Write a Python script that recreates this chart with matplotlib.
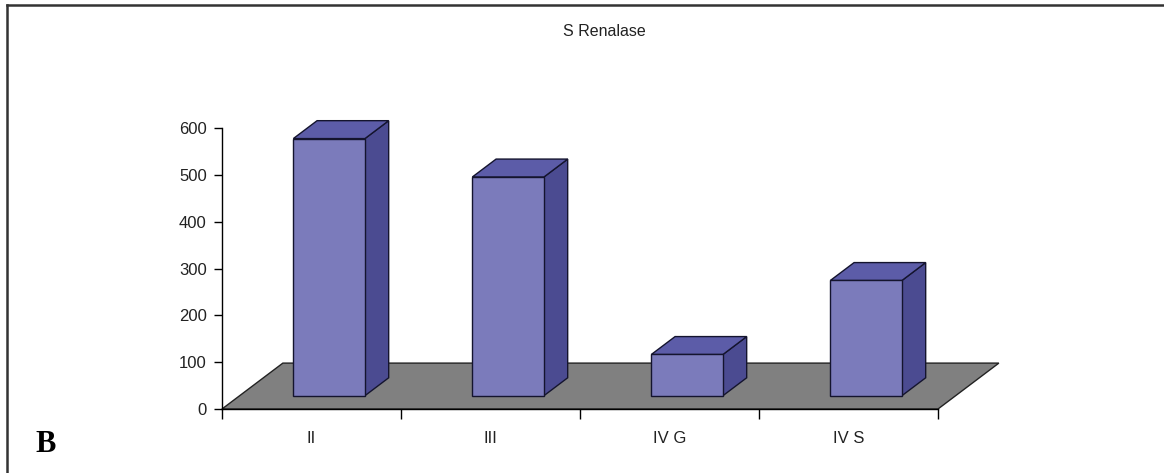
import matplotlib
matplotlib.use("Agg")
import matplotlib.pyplot as plt
from matplotlib.patches import Polygon
from matplotlib.lines import Line2D

# Data
categories = ["II", "III", "IV G", "IV S"]
renalase = [549, 467, 88, 246]
y_ticks = [0, 100, 200, 300, 400, 500, 600]

# Styling / pseudo-3D geometry
W, H, DPI = 1164, 473, 100
FRONT = "#7b7bbb"
TOP = "#5c5ca8"
SIDE = "#4b4b91"
EDGE = "#14142e"
FLOOR = "#808080"
HALF_W = 0.2          # half bar width, in category units
DEPTH_X = 0.34        # floor depth shift along x (category units)
DEPTH_Y = 98.0        # floor depth shift along y (value units)
F0, F1 = 0.29, 0.68   # bar front/back position within floor depth

plt.rcParams["font.family"] = ["Liberation Sans", "DejaVu Sans"]

fig = plt.figure(figsize=(W / DPI, H / DPI), dpi=DPI)
fig.patch.set_facecolor("white")
ax = fig.add_axes([222 / W, (H - 409) / H, (938 - 222) / W, (409 - 128) / H])
ax.set_xlim(-0.5, len(categories) - 0.5)
ax.set_ylim(0, 600)
ax.patch.set_alpha(0)

# Floor
floor = Polygon([(-0.5, 0), (len(categories) - 0.5, 0),
                 (len(categories) - 0.5 + DEPTH_X, DEPTH_Y), (-0.5 + DEPTH_X, DEPTH_Y)],
                closed=True, facecolor=FLOOR, edgecolor="#222222", lw=1.0,
                clip_on=False, zorder=1)
ax.add_patch(floor)

# Bars
ddx = (F1 - F0) * DEPTH_X
ddy = (F1 - F0) * DEPTH_Y
for i, v in enumerate(renalase):
    x0 = i - HALF_W + F0 * DEPTH_X
    x1 = i + HALF_W + F0 * DEPTH_X
    y0 = F0 * DEPTH_Y
    y1 = y0 + v
    front = [(x0, y0), (x1, y0), (x1, y1), (x0, y1)]
    top = [(x0, y1), (x1, y1), (x1 + ddx, y1 + ddy), (x0 + ddx, y1 + ddy)]
    side = [(x1, y0), (x1 + ddx, y0 + ddy), (x1 + ddx, y1 + ddy), (x1, y1)]
    for pts, col in ((side, SIDE), (top, TOP), (front, FRONT)):
        ax.add_patch(Polygon(pts, closed=True, facecolor=col, edgecolor=EDGE,
                             lw=1.0, joinstyle="miter", clip_on=False, zorder=3))

# Axes styling
for s in ("top", "right"):
    ax.spines[s].set_visible(False)
for s in ("left", "bottom"):
    ax.spines[s].set_color("black")
    ax.spines[s].set_linewidth(1.0)
    ax.spines[s].set_zorder(2)

ax.set_yticks(y_ticks)
ax.set_yticklabels([str(t) for t in y_ticks], fontsize=12, color="#222222")
ax.tick_params(axis="y", direction="out", length=6, width=1.0, pad=5)

ax.set_xticks([i - 0.5 for i in range(len(categories) + 1)])
ax.set_xticklabels([])
ax.set_xticks(range(len(categories)), minor=True)
ax.set_xticklabels(categories, minor=True, fontsize=12, color="#222222")
ax.tick_params(axis="x", which="major", direction="out", length=7, width=1.0)
ax.tick_params(axis="x", which="minor", length=0, pad=16)

# Title and panel letter
fig.text(604 / W, 1 - 32 / H, "S Renalase", ha="center", va="center",
         fontsize=11.5, color="#222222")
fig.text(35 / W, 1 - 444 / H, "B", ha="left", va="center", fontsize=22,
         fontweight="bold", family=["Liberation Serif", "DejaVu Serif"])

# Panel frame (top and left edges)
fig.add_artist(Line2D([7 / W, 1.0], [1 - 5 / H, 1 - 5 / H], transform=fig.transFigure,
                      color="#333333", lw=1.8))
fig.add_artist(Line2D([7 / W, 7 / W], [1 - 5 / H, 0.0], transform=fig.transFigure,
                      color="#333333", lw=1.8))

fig.savefig("out.png", dpi=DPI)
